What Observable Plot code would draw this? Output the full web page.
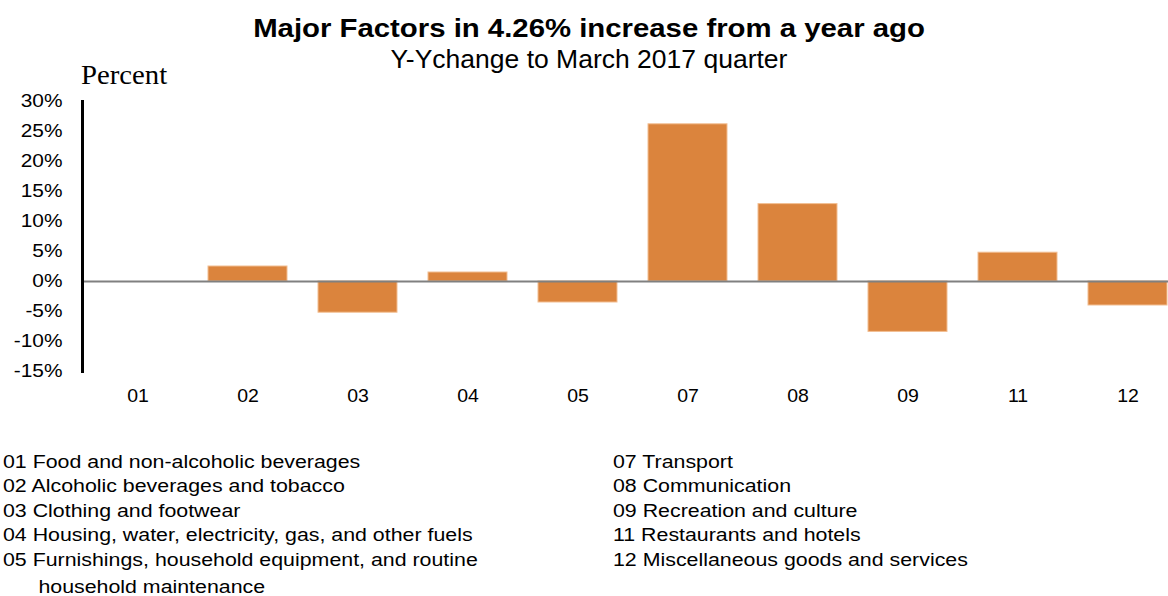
<!DOCTYPE html>
<html><head><meta charset="utf-8">
<script src="https://cdn.jsdelivr.net/npm/d3@7"></script>
<script src="https://cdn.jsdelivr.net/npm/@observablehq/plot@0.6"></script>
<style>
body{margin:0;background:#fff;font-family:"Liberation Sans",Arial,sans-serif;color:#000;}
#wrap{position:relative;width:1168px;height:596px;overflow:hidden;background:#fff;}
#header{position:relative;height:82px;}
#title{position:absolute;left:0;width:1178px;top:13px;text-align:center;font-weight:bold;font-size:26.5px;line-height:30px;transform:scaleX(1.107);transform-origin:589px 0;white-space:nowrap;}
#subtitle{position:absolute;left:0;width:1178px;top:44px;text-align:center;font-size:26.5px;line-height:30px;white-space:nowrap;}
#unit{position:absolute;left:81px;top:60px;font-family:"Liberation Serif","Times New Roman",serif;font-size:27px;line-height:30px;transform:scaleX(1.065);transform-origin:0 0;}
#chart svg{display:block;overflow:hidden;max-width:none;}
#legend{position:relative;margin-top:37.5px;font-size:17.5px;line-height:24.5px;}
.col{position:absolute;top:0;transform:scaleX(1.22);transform-origin:0 0;white-space:nowrap;}
.indent{padding-left:29px;margin-top:3px;}
</style></head><body>
<div id="wrap">
  <div id="header">
    <div id="title"></div>
    <div id="subtitle"></div>
    <div id="unit"></div>
  </div>
  <div id="chart"></div>
  <div id="legend"><div class="col" id="colL" style="left:3px"></div><div class="col" id="colR" style="left:613px"></div></div>
</div>
<script>
const titleText = "Major Factors in 4.26% increase from a year ago";
const subtitleText = "Y-Ychange to March 2017 quarter";
const unitText = "Percent";
const codes = ["01","02","03","04","05","07","08","09","11","12"];
const values = [0, 2.5, -5.2, 1.5, -3.5, 26.2, 12.9, -8.4, 4.8, -4.0];
const yTicks = [-15, -10, -5, 0, 5, 10, 15, 20, 25, 30];
const legendLeft = [
  "01 Food and non-alcoholic beverages",
  "02 Alcoholic beverages and tobacco",
  "03 Clothing and footwear",
  "04 Housing, water, electricity, gas, and other fuels",
  "05 Furnishings, household equipment, and routine"
];
const legendLeftCont = "household maintenance";
const legendRight = [
  "07 Transport",
  "08 Communication",
  "09 Recreation and culture",
  "11 Restaurants and hotels",
  "12 Miscellaneous goods and services"
];

document.getElementById("title").textContent = titleText;
document.getElementById("subtitle").textContent = subtitleText;
document.getElementById("unit").textContent = unitText;

const data = codes.map((c, i) => ({code: c, value: values[i]}));

const chart = Plot.plot({
  width: 1168,
  height: 330,
  marginTop: 19,
  marginBottom: 41,
  marginLeft: 82,
  marginRight: 0,
  style: {fontFamily: "'Liberation Sans', Arial, sans-serif", fontSize: "17.7px", color: "#000", background: "#fff", overflow: "hidden"},
  x: {domain: codes, range: [82, 1183], paddingInner: 0.28, paddingOuter: 0.14, label: null},
  y: {domain: [-15, 30], label: null},
  marks: [
    Plot.barY(data, {x: "code", y: "value", fill: "#DB843D", stroke: "#F2BE92", strokeWidth: 1}),
    Plot.ruleY([0], {stroke: "#808080", strokeWidth: 2}),
    Plot.axisY({ticks: yTicks, tickSize: 0, tickPadding: 20, tickFormat: d => d + "%", fontSize: 17.7, label: null}),
    Plot.axisX({tickSize: 0, tickPadding: 18, fontSize: 17.7, label: null}),
    Plot.frame({anchor: "left", stroke: "#000", strokeWidth: 3})
  ]
});
document.getElementById("chart").appendChild(chart);

// widen tick label glyphs to match the reference's stretched font
function stretch(sel, s) {
  chart.querySelectorAll(sel).forEach(t => {
    const tr = t.getAttribute("transform");
    if (tr) {
      t.setAttribute("transform", tr + ` scale(${s},1)`);
    } else {
      const x = +(t.getAttribute("x") || 0), y = +(t.getAttribute("y") || 0);
      t.removeAttribute("x"); t.removeAttribute("y");
      t.setAttribute("transform", `translate(${x},${y}) scale(${s},1)`);
    }
  });
}
stretch('g[aria-label="y-axis tick label"] text', 1.18);
stretch('g[aria-label="x-axis tick label"] text', 1.1);

const colL = document.getElementById("colL");
legendLeft.forEach(t => { const d = document.createElement("div"); d.textContent = t; colL.appendChild(d); });
const cont = document.createElement("div"); cont.className = "indent"; cont.textContent = legendLeftCont; colL.appendChild(cont);
const colR = document.getElementById("colR");
legendRight.forEach(t => { const d = document.createElement("div"); d.textContent = t; colR.appendChild(d); });
</script>
</body></html>
